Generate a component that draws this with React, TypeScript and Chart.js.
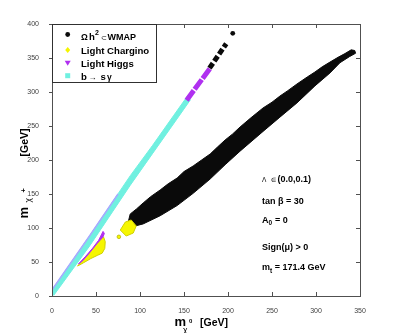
import React, { useEffect, useRef } from "react";
import { Chart, registerables } from "chart.js";

Chart.register(...registerables);

const FF = '"Liberation Sans", Arial, Helvetica, sans-serif';

// Axis ticks
const xTickValues = [0, 50, 100, 150, 200, 250, 300, 350];
const yTickValues = [0, 50, 100, 150, 200, 250, 300, 350, 400];

// Ω h² ⊂ WMAP : main band (outline), upper edge then lower edge
const wmapBandUpper: number[][] = [
  [86.6, 108.8], [88.9, 120.6], [96, 128], [103.6, 136.8], [112, 146], [122.9, 155.9],
  [132, 165], [142.2, 173.5], [150, 183], [160.4, 191.2], [170, 200], [179.7, 208.8],
  [188, 219], [196.7, 229.4], [205, 238], [213.7, 248.5], [226, 262], [239.8, 276.5],
  [250, 285], [259, 294], [268, 302], [278.4, 311.8], [290, 322], [298.8, 329.4],
  [307, 337], [315.9, 344], [325, 351], [332.9, 356.5], [340, 362], [344, 361],
];
const wmapBandLower: number[][] = [
  [345, 357], [338, 352], [327.2, 343], [315.9, 328], [298.8, 309], [278.4, 284], [259, 263],
  [239.8, 242], [213.7, 213], [196.7, 193], [179.7, 172], [160.4, 151], [142.2, 133],
  [122.9, 118], [103.6, 106], [94.5, 103],
];
// Ω h² ⊂ WMAP : points along the upper branch
const wmapDashes: number[][] = [[179, 335], [198, 371]];
const wmapDot: number[][] = [[205.4, 386.3]];

// Light Chargino regions
const charginoBlob: number[][] = [
  [77.6, 97], [83.3, 108.8], [90, 111.8], [95.7, 103], [92.3, 92.6], [84.3, 88.2],
];
const charginoDot: number[][] = [[76, 87]];
const charginoWedge: number[][] = [
  [29, 44], [36, 49], [44, 55], [52, 60], [57, 63], [60, 70], [60.5, 80], [58.5, 87],
  [52, 78], [44, 66], [36, 54],
];

// Light Higgs regions
const higgsWedge: number[][] = [
  [30, 47], [38, 58], [46, 70], [53, 82], [58, 95], [59.5, 92], [58, 87], [51, 77], [43, 64], [35, 52],
];
const higgsBranch: number[][] = [[153, 288], [179.7, 335]];

// b → s γ branch (outline)
const bsgUpper: number[][] = [[0, 9], [43, 89], [89, 177], [114, 221], [138, 265], [155, 296]];
const bsgLower: number[][] = [[157, 288], [138, 253], [114, 209], [89, 163], [43, 74], [2, 1]];
const bsgEdge: number[][] = [[0, 9], [43, 89], [75, 150]];

// Legend
const legendLabels = ["Ω h² ⊂ WMAP", "Light Chargino", "Light Higgs", "b → s γ"];
const legendColors = ["#0a0a0a", "#f4f400", "#b030f0", "#70f0e0"];

const BLACK = "#0a0a0a";
const YELLOW = "#f6f600";
const MAGENTA = "#b030f0";
const CYAN = "#70f0e0";

const pts = (a: number[][]) => a.map(([x, y]) => ({ x, y }));
const closed = (a: number[][]) => pts([...a, a[0]]);

function polygon(data: any[], color: string, edge?: string) {
  return {
    data,
    showLine: true,
    fill: "shape",
    backgroundColor: color,
    borderColor: edge || color,
    borderWidth: 1,
    pointRadius: 0,
    tension: 0,
  };
}

type Run = { t: string; f: string; x?: number; dy?: number };
function drawRuns(ctx: CanvasRenderingContext2D, x: number, y: number, runs: Run[]) {
  let cx = x;
  for (const r of runs) {
    ctx.font = r.f;
    if (r.x !== undefined) cx = x + r.x;
    ctx.fillText(r.t, cx, y + (r.dy || 0));
    cx += ctx.measureText(r.t).width;
  }
}

const decorPlugin = {
  id: "decor",
  afterDraw(chart: any) {
    const ctx: CanvasRenderingContext2D = chart.ctx;
    const { left, right, top, bottom } = chart.chartArea;
    const xs = chart.scales.x;
    const ys = chart.scales.y;
    ctx.save();
    // frame
    ctx.strokeStyle = "#505050";
    ctx.lineWidth = 1;
    ctx.strokeRect(Math.round(left) + 0.5, Math.round(top) + 0.5, Math.round(right - left), Math.round(bottom - top));
    // ticks
    ctx.beginPath();
    for (const v of xTickValues) {
      const px = Math.round(xs.getPixelForValue(v)) + 0.5;
      ctx.moveTo(px, bottom);
      ctx.lineTo(px, bottom - 4);
      ctx.moveTo(px, top);
      ctx.lineTo(px, top + 4);
    }
    for (const v of yTickValues) {
      const py = Math.round(ys.getPixelForValue(v)) + 0.5;
      ctx.moveTo(left, py);
      ctx.lineTo(left - 3, py);
      ctx.moveTo(right, py);
      ctx.lineTo(right - 4, py);
    }
    ctx.stroke();

    // legend
    const lx0 = Math.round(left) + 0.5, ly0 = Math.round(top) + 0.5;
    ctx.fillStyle = "#ffffff";
    ctx.fillRect(lx0, ly0, 104, 58);
    ctx.strokeStyle = "#303030";
    ctx.strokeRect(lx0, ly0, 104, 58);
    const mx = 67.7;
    const rowsY = [34.5, 50, 62.7, 75.7];
    // markers
    ctx.fillStyle = legendColors[0];
    ctx.beginPath();
    ctx.arc(mx, rowsY[0], 2.4, 0, Math.PI * 2);
    ctx.fill();
    ctx.fillStyle = legendColors[1];
    ctx.beginPath();
    ctx.moveTo(mx, rowsY[1] - 3);
    ctx.lineTo(mx + 2.5, rowsY[1]);
    ctx.lineTo(mx, rowsY[1] + 3);
    ctx.lineTo(mx - 2.5, rowsY[1]);
    ctx.closePath();
    ctx.fill();
    ctx.fillStyle = legendColors[2];
    ctx.beginPath();
    ctx.moveTo(mx - 3, rowsY[2] - 2);
    ctx.lineTo(mx + 3, rowsY[2] - 2);
    ctx.lineTo(mx, rowsY[2] + 3);
    ctx.closePath();
    ctx.fill();
    ctx.fillStyle = legendColors[3];
    ctx.fillRect(mx - 2.5, rowsY[3] - 2.5, 5, 5);
    // legend texts
    ctx.fillStyle = "#000";
    ctx.textBaseline = "alphabetic";
    ctx.textAlign = "left";
    const bf = `bold 9.6px ${FF}`;
    const tx = 81;
    drawRuns(ctx, tx, 39.5, [
      { t: "Ω", f: `bold 8.5px ${FF}` },
      { t: "h", f: bf, x: 8 },
      { t: "2", f: `bold 7px ${FF}`, x: 14, dy: -4.5 },
      { t: "⊂", f: `7px ${FF}`, x: 19.5 },
      { t: "WMAP", f: `bold 9px ${FF}`, x: 26.5 },
    ]);
    drawRuns(ctx, tx, 54, [{ t: legendLabels[1], f: bf }]);
    drawRuns(ctx, tx, 66.5, [{ t: legendLabels[2], f: bf }]);
    drawRuns(ctx, tx, 79.5, [
      { t: "b", f: bf },
      { t: "→", f: `8px ${FF}`, x: 7.5 },
      { t: "s", f: bf, x: 19.5 },
      { t: "γ", f: `bold 8.5px ${FF}`, x: 26 },
    ]);

    // annotations
    const af = `bold 9px ${FF}`;
    const sf = `bold 6.5px ${FF}`;
    const ax = 262;
    drawRuns(ctx, ax, 181.5, [
      { t: "Λ", f: `6.5px ${FF}` },
      { t: "∈", f: `6px ${FF}`, x: 8.5 },
      { t: "(0.0,0.1)", f: af, x: 15.5 },
    ]);
    drawRuns(ctx, ax, 203.5, [{ t: "tan β = 30", f: af }]);
    drawRuns(ctx, ax, 222.5, [
      { t: "A", f: af },
      { t: "0", f: sf, dy: 2.5 },
      { t: "= 0", f: af, x: 13 },
    ]);
    drawRuns(ctx, ax, 250, [{ t: "Sign(μ) > 0", f: af }]);
    drawRuns(ctx, ax, 270, [
      { t: "m", f: af },
      { t: "t", f: sf, dy: 2.5 },
      { t: " = 171.4 GeV", f: af },
    ]);

    // x axis title
    drawRuns(ctx, 174.5, 325.5, [
      { t: "m", f: `bold 13px ${FF}` },
      { t: "0", f: `bold 6px ${FF}`, x: 14.5, dy: -3 },
      { t: "[GeV]", f: `bold 10.5px ${FF}`, x: 25.5, dy: 0.5 },
    ]);
    ctx.font = `8.5px ${FF}`;
    ctx.fillText("χ", 183, 333);

    // y axis title (rotated)
    ctx.save();
    ctx.translate(27.5, 218.5);
    ctx.rotate(-Math.PI / 2);
    drawRuns(ctx, 0, 0, [
      { t: "m", f: `bold 13px ${FF}` },
      { t: "χ", f: `8.5px ${FF}`, x: 16, dy: 3.5 },
      { t: "+", f: `bold 7.5px ${FF}`, x: 26, dy: -2 },
      { t: "[GeV]", f: `bold 10.5px ${FF}`, x: 62 },
    ]);
    ctx.restore();

    ctx.restore();
  },
};

export default function App() {
  const ref = useRef<HTMLCanvasElement>(null);
  useEffect(() => {
    if (!ref.current) return;
    const chart = new Chart(ref.current, {
      type: "scatter",
      data: {
        datasets: [
          { label: legendLabels[0], data: pts(wmapDot), backgroundColor: BLACK, borderColor: BLACK, pointRadius: 2.4, borderWidth: 0 } as any,
          { label: legendLabels[0], data: pts(wmapDashes), showLine: true, borderColor: BLACK, borderWidth: 5, borderDash: [6, 2.5], pointRadius: 0 } as any,
          { label: legendLabels[2], data: pts(higgsBranch), showLine: true, borderColor: MAGENTA, borderWidth: 5, borderDash: [12, 1.5], pointRadius: 0 } as any,
          { label: legendLabels[3], data: pts(bsgEdge), showLine: true, borderColor: "#a8a8ff", borderWidth: 1.5, pointRadius: 0 } as any,
          { label: legendLabels[3], ...polygon(closed([...bsgUpper, ...bsgLower]), CYAN) } as any,
          { label: legendLabels[1], data: pts(charginoDot), backgroundColor: YELLOW, borderColor: "#b8b800", pointRadius: 1.8, borderWidth: 0.8 } as any,
          { label: legendLabels[1], ...polygon(closed(charginoBlob), YELLOW, "#d0d000") } as any,
          { label: legendLabels[2], ...polygon(closed(higgsWedge), MAGENTA) } as any,
          { label: legendLabels[1], ...polygon(closed(charginoWedge), YELLOW, "#d0d000") } as any,
          { label: legendLabels[0], ...polygon(closed([...wmapBandUpper, ...wmapBandLower]), BLACK) } as any,
        ],
      },
      options: {
        animation: false,
        responsive: false,
        events: [],
        layout: { padding: { left: 0, top: 24, right: 38, bottom: 0 } },
        plugins: { legend: { display: false }, tooltip: { enabled: false } },
        scales: {
          x: {
            type: "linear",
            min: 0,
            max: 350,
            afterFit: (s: any) => { s.height = 37; },
            afterBuildTicks: (s: any) => { s.ticks = xTickValues.map((v) => ({ value: v })); },
            grid: { display: false },
            border: { display: false },
            ticks: { padding: 2.5, color: "#404040", font: { family: FF, size: 7 }, maxRotation: 0 },
          },
          y: {
            type: "linear",
            min: 0,
            max: 400,
            afterFit: (s: any) => { s.width = 52; },
            afterBuildTicks: (s: any) => { s.ticks = yTickValues.map((v) => ({ value: v })); },
            grid: { display: false },
            border: { display: false },
            ticks: { padding: 5, color: "#404040", font: { family: FF, size: 7 } },
          },
        },
      },
      plugins: [decorPlugin],
    });
    return () => chart.destroy();
  }, []);
  return (
    <canvas
      ref={ref}
      width={398}
      height={333}
      style={{ position: "absolute", left: 0, top: 0, width: 398, height: 333 }}
    />
  );
}
